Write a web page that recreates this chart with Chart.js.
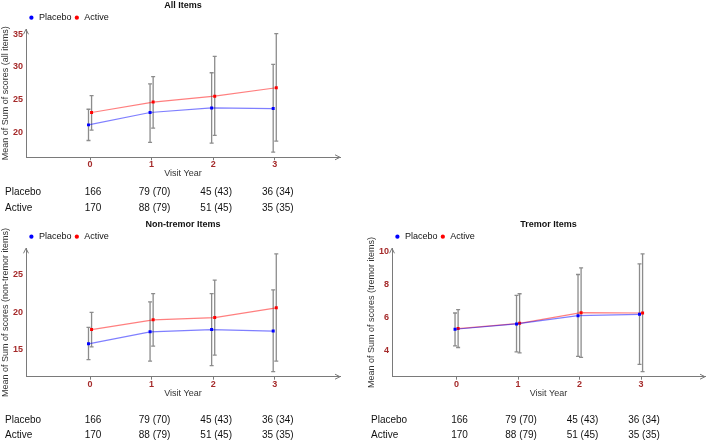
<!DOCTYPE html>
<html>
<head>
<meta charset="utf-8">
<script src="https://cdn.jsdelivr.net/npm/chart.js@4.4.1/dist/chart.umd.min.js"></script>
<style>
  body { margin: 0; background: #fff; width: 709px; height: 442px; position: relative; overflow: hidden; }
  canvas { position: absolute; }
</style>
</head>
<body>
<canvas id="allChart" width="355" height="215" style="left:0;top:0"></canvas>
<canvas id="nonTremorChart" width="355" height="223" style="left:0;top:219px"></canvas>
<canvas id="tremorChart" width="343" height="223" style="left:366px;top:219px"></canvas>
<script>
// visit years and numbers at risk
const visits = [0, 1, 2, 3];
const nPlacebo = ['166', '79 (70)', '45 (43)', '36 (34)'];
const nActive = ['170', '88 (79)', '51 (45)', '35 (35)'];

// All items: means and error bar ends
const allPlacebo = [21.1, 23.0, 23.7, 23.6];
const allPlaceboLo = [18.7, 18.4, 18.3, 16.9];
const allPlaceboHi = [23.5, 27.4, 29.1, 30.4];
const allActive = [23.0, 24.6, 25.5, 26.8];
const allActiveLo = [20.3, 20.6, 19.5, 18.6];
const allActiveHi = [25.6, 28.5, 31.6, 35.1];
const allTicks = [20, 25, 30, 35];

// Non-tremor items
const nonPlacebo = [15.8, 17.4, 17.7, 17.5];
const nonPlaceboLo = [13.7, 13.5, 12.9, 12.1];
const nonPlaceboHi = [18.0, 21.4, 22.5, 23.0];
const nonActive = [17.7, 19.0, 19.3, 20.6];
const nonActiveLo = [15.4, 15.5, 14.3, 13.5];
const nonActiveHi = [20.0, 22.5, 24.3, 27.8];
const nonTicks = [15, 20, 25];

// Tremor items
const tremPlacebo = [5.30, 5.62, 6.12, 6.20];
const tremPlaceboLo = [4.30, 3.94, 3.66, 3.18];
const tremPlaceboHi = [6.28, 7.34, 8.60, 9.24];
const tremActive = [5.34, 5.66, 6.30, 6.28];
const tremActiveLo = [4.20, 3.88, 3.60, 2.74];
const tremActiveHi = [6.48, 7.44, 9.00, 9.84];
const tremTicks = [4, 6, 8, 10];

Chart.defaults.font.family = '"Liberation Sans", Arial, sans-serif';

const tickRed = '#a52a2a';
const axisGrey = '#7a7a7a';
const dodge = 0.025;

function buildPanel(id, p) {
  const extras = {
    id: 'panelExtras',
    beforeDatasetsDraw(chart) {
      // error bars under the points
      const ctx = chart.ctx, ys = chart.scales.y;
      ctx.save();
      ctx.strokeStyle = '#8c8c8c';
      ctx.lineWidth = 1.3;
      p.bars.forEach((bar, di) => {
        chart.getDatasetMeta(di).data.forEach((pt, i) => {
          const top = ys.getPixelForValue(bar.hi[i]);
          const bot = ys.getPixelForValue(bar.lo[i]);
          ctx.beginPath();
          ctx.moveTo(pt.x, top); ctx.lineTo(pt.x, bot);
          ctx.moveTo(pt.x - 2, top); ctx.lineTo(pt.x + 2, top);
          ctx.moveTo(pt.x - 2, bot); ctx.lineTo(pt.x + 2, bot);
          ctx.stroke();
        });
      });
      ctx.restore();
    },
    afterDraw(chart) {
      const ctx = chart.ctx, a = chart.chartArea, xs = chart.scales.x;
      // arrow heads on the axes
      ctx.save();
      ctx.strokeStyle = axisGrey;
      ctx.lineWidth = 1;
      ctx.beginPath();
      ctx.moveTo(a.left - 2.5, a.top + 5); ctx.lineTo(a.left, a.top); ctx.lineTo(a.left + 2.5, a.top + 5);
      ctx.moveTo(a.right - 5, a.bottom - 2.5); ctx.lineTo(a.right, a.bottom); ctx.lineTo(a.right - 5, a.bottom + 2.5);
      ctx.stroke();
      // numbers at each visit
      ctx.fillStyle = '#111';
      ctx.font = '10px "Liberation Sans", Arial, sans-serif';
      ctx.textBaseline = 'middle';
      const rows = [['Placebo', nPlacebo], ['Active', nActive]];
      rows.forEach(([name, vals], r) => {
        const y = a.bottom + p.tableY[r];
        ctx.textAlign = 'left';
        ctx.fillText(name, 5, y);
        ctx.textAlign = 'center';
        vals.forEach((v, i) => ctx.fillText(v, xs.getPixelForValue(visits[i]) + 3, y));
      });
      ctx.restore();
    }
  };

  const series = (label, vals, shift, line, dot) => ({
    label: label,
    data: visits.map((v, i) => ({ x: v + shift, y: vals[i] })),
    borderColor: line,
    backgroundColor: dot,
    borderWidth: 1.2,
    pointStyle: 'rect',
    pointRadius: 2.1,
    pointBackgroundColor: dot,
    pointBorderWidth: 0,
    tension: 0
  });

  new Chart(document.getElementById(id), {
    type: 'line',
    data: {
      datasets: [
        series('Placebo', p.placebo, -dodge, 'rgba(0,0,255,0.5)', '#0000ff'),
        series('Active', p.active, dodge, 'rgba(255,0,0,0.5)', '#ff0000')
      ]
    },
    options: {
      responsive: false,
      animation: false,
      layout: { padding: { left: 0, right: p.padRight, top: 0, bottom: p.padBottom } },
      plugins: {
        title: {
          display: true, text: p.title, fullSize: false, color: '#111', padding: 0,
          font: { size: 9, weight: 'bold', lineHeight: 1.2 }
        },
        legend: {
          display: true, fullSize: false, align: 'start', maxHeight: 18.5,
          labels: {
            usePointStyle: true, pointStyle: 'circle', boxWidth: 6, boxHeight: 3, padding: 2.4,
            color: '#111', font: { size: 9 },
            generateLabels: chart => Chart.defaults.plugins.legend.labels.generateLabels(chart)
              .map(l => ({ ...l, strokeStyle: l.fillStyle, lineWidth: 0 }))
          }
        },
        tooltip: { enabled: false }
      },
      scales: {
        x: {
          type: 'linear', min: p.xMin, max: p.xMax,
          afterBuildTicks: s => { s.ticks = visits.map(v => ({ value: v })); },
          ticks: { color: tickRed, padding: 0, font: { size: 9, weight: 'bold', lineHeight: 1 } },
          grid: { display: true, drawOnChartArea: false, drawTicks: true, tickLength: 3, color: axisGrey },
          border: { display: true, color: axisGrey, width: 1 },
          title: { display: true, text: 'Visit Year', color: '#333', padding: 0, font: { size: 9, lineHeight: 1 } }
        },
        y: {
          min: p.yMin, max: p.yMax,
          afterBuildTicks: s => { s.ticks = p.yTicks.map(v => ({ value: v })); },
          ticks: { color: tickRed, padding: 3, font: { size: 9, weight: 'bold', lineHeight: 1 } },
          grid: { display: false, drawTicks: false },
          border: { display: true, color: axisGrey, width: 1 },
          title: { display: true, text: p.yTitle, color: '#333', padding: { top: 1, bottom: 0 }, font: { size: 9, lineHeight: 1 } }
        }
      }
    },
    plugins: [extras]
  });
}

buildPanel('allChart', {
  title: 'All Items', yTitle: 'Mean of Sum of scores (all items)',
  placebo: allPlacebo, active: allActive,
  bars: [{ lo: allPlaceboLo, hi: allPlaceboHi }, { lo: allActiveLo, hi: allActiveHi }],
  yTicks: allTicks, yMin: 16.12, yMax: 35.77, xMin: -1.04, xMax: 4.06,
  padRight: 15, padBottom: 36.7, tableY: [35.4, 51]
});

buildPanel('nonTremorChart', {
  title: 'Non-tremor Items', yTitle: 'Mean of Sum of scores (non-tremor items)',
  placebo: nonPlacebo, active: nonActive,
  bars: [{ lo: nonPlaceboLo, hi: nonPlaceboHi }, { lo: nonActiveLo, hi: nonActiveHi }],
  yTicks: nonTicks, yMin: 11.42, yMax: 28.53, xMin: -1.04, xMax: 4.06,
  padRight: 15, padBottom: 44.3, tableY: [43.3, 58.6]
});

buildPanel('tremorChart', {
  title: 'Tremor Items', yTitle: 'Mean of Sum of scores (tremor items)',
  placebo: tremPlacebo, active: tremActive,
  bars: [{ lo: tremPlaceboLo, hi: tremPlaceboHi }, { lo: tremActiveLo, hi: tremActiveHi }],
  yTicks: tremTicks, yMin: 2.44, yMax: 10.18, xMin: -1.05, xMax: 4.04,
  padRight: 4, padBottom: 44.3, tableY: [43.3, 58.6]
});
</script>
</body>
</html>
